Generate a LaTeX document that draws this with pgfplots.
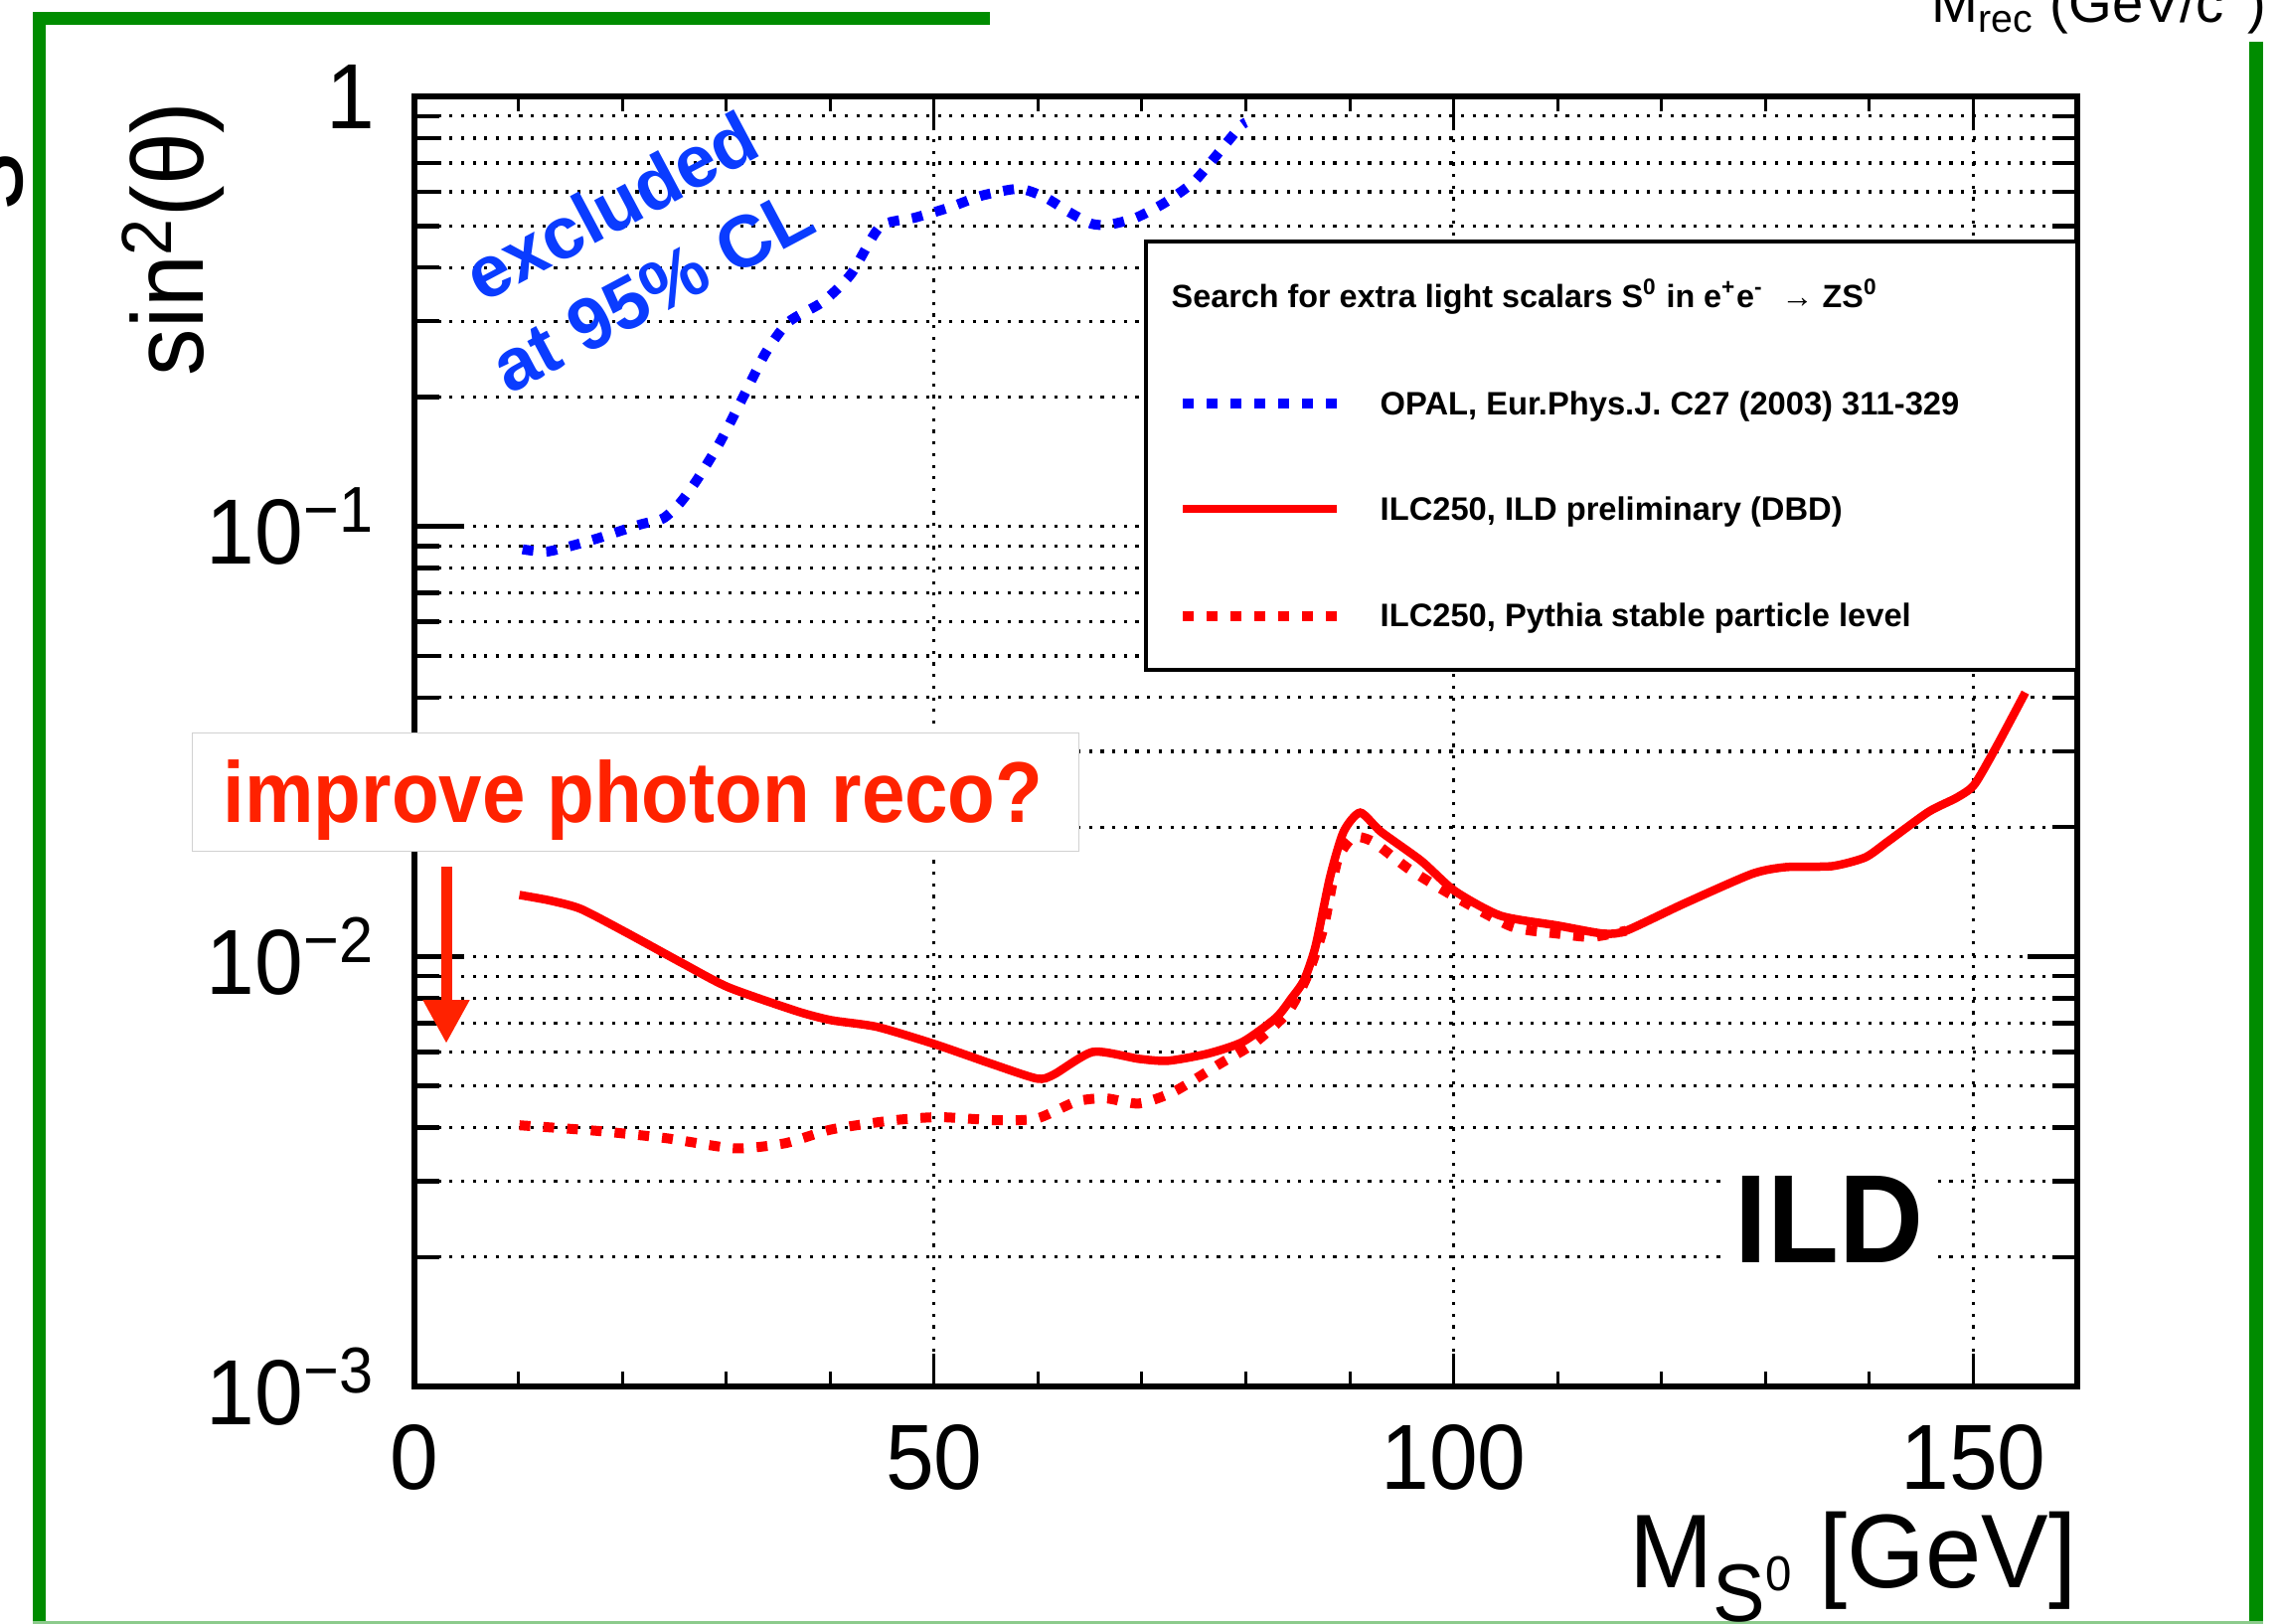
\documentclass[border=0pt]{standalone}
\usepackage{fontspec}
\setmainfont{Liberation Sans}
\setsansfont{Liberation Sans}
\usepackage{pgfplots}
\usepackage{pgfplotstable}
\pgfplotsset{compat=1.18}
\usetikzlibrary{arrows.meta}

\definecolor{framegreen}{RGB}{0,140,0}
\definecolor{annored}{RGB}{255,34,0}
\definecolor{annoblue}{RGB}{10,60,255}

% OPAL 95% CL exclusion
\pgfplotstableread{
m s
10.4 0.0885
12.9 0.0875
17.3 0.0933
21.7 0.101
23.9 0.1043
25.5 0.113
27.2 0.1285
29.4 0.157
31.6 0.1995
33.8 0.2535
36.0 0.299
39.3 0.333
42.0 0.386
44.8 0.498
48.1 0.522
51.4 0.551
54.6 0.588
58.2 0.610
60.7 0.582
62.9 0.540
65.1 0.506
66.8 0.503
69.4 0.522
72.2 0.566
75.0 0.633
77.2 0.731
79.4 0.848
80.0 0.87
}\opal

% ILC250, ILD preliminary (DBD)
\pgfplotstableread{
m s
10.1 0.0139
13.0 0.0135
16.0 0.0129
20.4 0.01136
25.8 0.00964
30.2 0.00848
36.8 0.00746
40.1 0.00711
44.5 0.00686
50.0 0.00626
55.5 0.00563
59.9 0.00520
61.5 0.00531
65.3 0.00600
69.7 0.00578
72.5 0.00572
76.3 0.00594
79.7 0.00633
82.9 0.00720
84.4 0.00800
85.6 0.00881
86.7 0.01055
88.1 0.0153
89.4 0.0195
91.0 0.0216
93.0 0.0195
96.9 0.01667
100.1 0.0142
104.5 0.01244
110.0 0.0118
114.4 0.0113
116.6 0.01148
122.1 0.01325
128.7 0.01556
132.0 0.01614
136.4 0.01622
139.6 0.0170
141.8 0.01853
145.7 0.0217
148.4 0.0234
150.1 0.0251
152.3 0.031
155.0 0.0411
}\dbd

% ILC250, Pythia stable particle level
\pgfplotstableread{
m s
10.1 0.00405
17.6 0.00393
24.2 0.00378
30.8 0.00358
35.7 0.00368
40.1 0.00396
46.1 0.00416
50.5 0.00423
56.0 0.00416
59.9 0.00420
63.7 0.00460
66.5 0.00468
69.7 0.00455
73.1 0.00485
77.5 0.00563
80.7 0.00626
84.0 0.00740
85.9 0.00900
87.5 0.01173
88.8 0.0167
90.3 0.0189
92.2 0.0185
95.7 0.01597
100.1 0.01377
105.6 0.01173
110.0 0.0113
113.3 0.0111
116.6 0.01148
}\pythia

\tikzset{
  rootdotted/.style={line width=1.0mm, dash pattern=on 1.1mm off 1.3mm},
  rootsolid/.style={line width=0.85mm},
}

\begin{document}
\begin{tikzpicture}
\path[use as bounding box, clip] (0,0) rectangle (229.5mm,163.3mm);

\begin{axis}[
  at={(41.7mm,23.8mm)}, anchor=south west,
  scale only axis, width=167.3mm, height=129.8mm,
  xmin=0, xmax=160,
  ymode=log, ymin=1e-3, ymax=1,
  axis line style={line width=0.55mm},
  tick align=inside,
  xtick={0,50,100,150},
  xticklabels={0,50,100,150},
  minor xtick={10,20,30,40,60,70,80,90,110,120,130,140},
  ytick={0.001,0.01,0.1,1},
  yticklabels={10\textsuperscript{−3},10\textsuperscript{−2},10\textsuperscript{−1},1},
  minor ytick={0.002,0.003,0.004,0.005,0.006,0.007,0.008,0.009,
               0.02,0.03,0.04,0.05,0.06,0.07,0.08,0.09,
               0.2,0.3,0.4,0.5,0.6,0.7,0.8,0.9},
  xtick style={black, line width=0.3mm,
    /pgfplots/major tick length=3.3mm, /pgfplots/minor tick length=1.5mm},
  ytick style={black, line width=0.45mm,
    /pgfplots/major tick length=5mm, /pgfplots/minor tick length=2.5mm},
  xmajorgrids=true, ymajorgrids=true, yminorgrids=true,
  major grid style={black, line width=0.32mm, dash pattern=on 0.32mm off 0.85mm},
  minor grid style={black, line width=0.32mm, dash pattern=on 0.32mm off 0.85mm},
  ticklabel style={font=\fontsize{26.5}{30}\selectfont, xscale=0.94},
  xticklabel style={anchor=north, inner sep=0pt, yshift=-3.8mm},
  yticklabel style={anchor=east, inner sep=0pt, xshift=-4.2mm},
]
\addplot[blue, rootdotted, smooth, tension=0.4] table {\opal};
\addplot[red, rootdotted, smooth, tension=0.4] table {\pythia};
\addplot[red, rootsolid, smooth, tension=0.4] table {\dbd};
\end{axis}

\begin{scope}[x=0.1mm, y=-0.1mm, shift={(0mm,163.3mm)}]
  % slide frame
  \draw[framegreen, line width=1.3mm, line join=miter]
    (39.5,1650) -- (39.5,18.5) -- (996,18.5);
  \draw[framegreen, line width=1.4mm] (2270,42) -- (2270,1650);
  \draw[framegreen!45!white, line width=0.3mm] (33,1632) -- (2277,1632);
  \node[rotate=90, anchor=base, inner sep=0pt, font=\fontsize{33}{33}\selectfont] at (22,183) {s};
  \node[anchor=base west, inner sep=0pt, font=\fontsize{16}{18}\selectfont]
    at (1943,23) {M\textsubscript{rec} (GeV/c\textsuperscript{2})};

  % axis titles
  \node[rotate=90, anchor=base east, inner sep=0pt, font=\fontsize{29}{32}\selectfont]
    at (204,102) {\scalebox{0.93}[1]{sin\textsuperscript{2}(θ)}};
  \node[anchor=base east, inner sep=0pt, font=\fontsize{30}{33}\selectfont]
    at (2090,1597) {\scalebox{0.96}[1]{M\raisebox{-0.33em}{\scalebox{0.78}{S\raisebox{0.38em}{\scalebox{0.6}{0}}}} [GeV]}};

  % legend
  \draw[line width=0.45mm, fill=white] (1153,243) rectangle (2090,674);
  \node[anchor=base west, inner sep=0pt, font=\fontsize{9.2}{10}\selectfont\bfseries]
    at (1178,310) {Search for extra light scalars S\textsuperscript{0} in e\textsuperscript{+}e\textsuperscript{-}\ \ → ZS\textsuperscript{0}};
  \draw[blue, rootdotted] (1190,406) -- (1345,406);
  \draw[red, line width=0.8mm] (1190,512) -- (1345,512);
  \draw[red, rootdotted] (1190,620) -- (1345,620);
  \begin{scope}[every node/.style={anchor=base west, inner sep=0pt, font=\fontsize{9.3}{10}\selectfont\bfseries}]
    \node at (1388,418) {OPAL, Eur.Phys.J. C27 (2003) 311-329};
    \node at (1388,523) {ILC250, ILD preliminary (DBD)};
    \node at (1388,630) {ILC250, Pythia stable particle level};
  \end{scope}

  % ILD label
  \fill[white] (1735,1150) rectangle (1947,1290);
  \node[anchor=base west, inner sep=0pt, font=\fontsize{36}{38}\selectfont\bfseries]
    at (1745,1270) {\scalebox{0.93}[1]{ILD}};

  % excluded region annotation
  \begin{scope}[every node/.style={anchor=base west, inner sep=0pt, rotate=28,
      text=annoblue, font=\fontsize{21}{24}\selectfont\bfseries}]
    \node at (485,306) {excluded};
    \node at (512,398) {at 95\% CL};
  \end{scope}

  % photon reconstruction note
  \draw[black!18, line width=0.1mm, fill=white] (193,737) rectangle (1085,856);
  \node[anchor=base west, inner sep=0pt, text=annored, font=\fontsize{24.7}{28}\selectfont\bfseries]
    at (224,827) {\scalebox{0.9}[1]{improve photon reco?}};
  \draw[annored, line width=1.1mm, -{Triangle[width=4.4mm, length=4.4mm]}]
    (449,872) -- (449,1050);
\end{scope}
\end{tikzpicture}
\end{document}
